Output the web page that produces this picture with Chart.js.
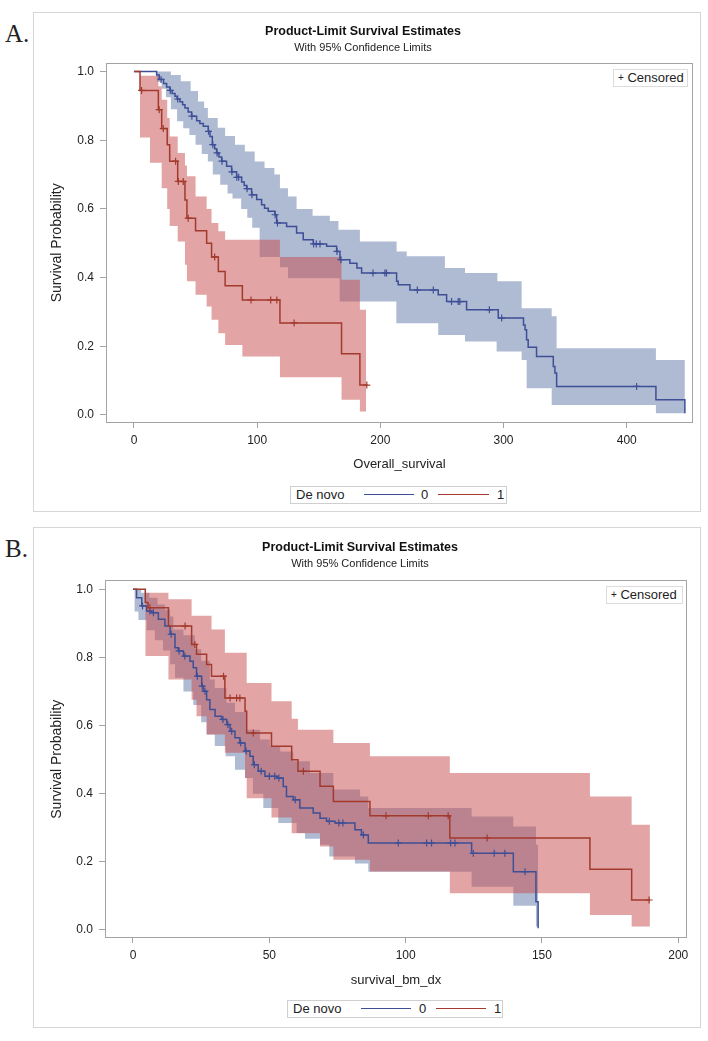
<!DOCTYPE html>
<html>
<head>
<meta charset="utf-8">
<script src="https://cdn.jsdelivr.net/npm/chart.js@4.4.0/dist/chart.umd.min.js"></script>
<style>
  body { margin: 0; width: 708px; height: 1041px; background: #fff; position: relative; overflow: hidden;
         font-family: "Liberation Sans", Arial, sans-serif; color: #222; }
  .frame { position: absolute; left: 33px; width: 668px; border: 1px solid #d6d6d6; box-sizing: border-box; }
  canvas { position: absolute; left: 33px; }
  .tag { position: absolute; left: 5px; font-family: "Liberation Serif", "Times New Roman", serif;
         font-size: 25px; line-height: 25px; color: #222; }
  .cens { position: absolute; height: 18px; border: 1px solid #dcdcdc; box-sizing: border-box; background: #fff;
          font-size: 13px; line-height: 16px; padding-left: 4px; white-space: nowrap; }
  .cens b { font-weight: normal; font-size: 10px; position: relative; top: -1px; }
  .legend { position: absolute; height: 18px; border: 1px solid #cfcfcf; box-sizing: border-box; background: #fff;
            font-size: 13px; }
  .legend span { position: absolute; top: 0; line-height: 16px; }
  .legend i { position: absolute; top: 7px; height: 0; border-top: 1.5px solid; }
</style>
</head>
<body>

<div class="tag" style="top:21px">A.</div>
<div class="frame" style="top:12px;height:500px"></div>
<canvas id="chartA" width="668" height="500" style="top:12px"></canvas>
<div class="cens" style="left:613px;top:69px;width:75px"><b>+</b> Censored</div>
<div class="legend" style="left:290px;top:486px;width:217px">
  <span style="left:5px">De novo</span>
  <i style="left:73px;width:50px;border-color:#3e4f96"></i><span style="left:130px">0</span>
  <i style="left:147px;width:51px;border-color:#a23a2e"></i><span style="left:206px">1</span>
</div>

<div class="tag" style="top:536px">B.</div>
<div class="frame" style="top:527px;height:501px"></div>
<canvas id="chartB" width="668" height="501" style="top:527px"></canvas>
<div class="cens" style="left:606px;top:586px;width:77px"><b>+</b> Censored</div>
<div class="legend" style="left:287px;top:1000px;width:216px">
  <span style="left:5px">De novo</span>
  <i style="left:73px;width:50px;border-color:#3e4f96"></i><span style="left:131px">0</span>
  <i style="left:148px;width:50px;border-color:#a23a2e"></i><span style="left:206px">1</span>
</div>

<script>
// Kaplan-Meier estimates
const yTicks = [0, 0.2, 0.4, 0.6, 0.8, 1.0];

// ---- A: Overall_survival ----
const aXTicks = [0, 100, 200, 300, 400];

const aBlueTime = [0, 18.4, 20.5, 24, 26.5, 29.2, 31, 33.3, 35, 37.3, 39.5, 41.4, 44, 46.8, 50.9, 53.5, 56.3, 60.3, 61.7, 63.6,
  65.5, 67.1, 69, 71.2, 75.2, 79.3, 83.3, 87.4, 89.5, 91.5, 95.5, 99.6, 103.6, 106, 109, 114.4, 115.8, 123.9, 132, 137.4,
  145.5, 156.4, 164.5, 167.2, 175.3, 181, 184.8, 213.2, 214.5, 224, 247, 253.8, 270, 295.7, 316.2, 317.5, 318.7, 320, 326.8,
  340.4, 341.7, 343.1, 423.7, 447.2];
const aBlueSurv = [1, 0.99, 0.977, 0.965, 0.955, 0.945, 0.936, 0.928, 0.92, 0.912, 0.903, 0.894, 0.882, 0.870, 0.857, 0.849,
  0.841, 0.826, 0.811, 0.787, 0.775, 0.763, 0.751, 0.739, 0.724, 0.708, 0.692, 0.678, 0.668, 0.659, 0.641, 0.627, 0.612, 0.602,
  0.593, 0.583, 0.559, 0.549, 0.530, 0.510, 0.498, 0.491, 0.476, 0.452, 0.442, 0.428, 0.413, 0.389, 0.379, 0.364, 0.350, 0.330,
  0.306, 0.282, 0.262, 0.248, 0.219, 0.197, 0.170, 0.141, 0.122, 0.083, 0.044, 0.005];
const aBlueCens = [22, 29.5, 35.5, 47, 60.5, 64, 67.5, 71.5, 79.5, 83.5, 85, 91.8, 95.8, 114.6, 116.5, 145.8, 148, 151, 164.8,
  168, 194, 203.7, 205, 230, 243, 257.8, 263.2, 264.5, 288.5, 298.5, 408];
const aBlueLoTime = [18.4, 22.5, 26, 30, 35, 40, 45, 50, 55, 60, 64, 70, 76, 80, 87, 92, 96, 102, 118.5, 125, 167, 213,
  247, 268.7, 294.4, 314.7, 318.8, 339.1, 423.7, 447.2];
const aBlueLo = [0.97, 0.95, 0.925, 0.89, 0.855, 0.835, 0.815, 0.787, 0.76, 0.738, 0.70, 0.67, 0.645, 0.63, 0.60, 0.574, 0.545,
  0.46, 0.43, 0.398, 0.33, 0.267, 0.233, 0.214, 0.185, 0.16, 0.078, 0.029, 0.005, 0.005];
const aBlueHiTime = [18.4, 30, 38, 46, 52, 57, 60, 68, 74, 82, 90, 98, 106, 114, 118.5, 125, 132, 145, 159, 166, 183.4, 213.2,
  221.4, 252.4, 268.7, 295, 314.7, 339.1, 343.1, 423.7, 447.2];
const aBlueHi = [1.0, 0.99, 0.972, 0.943, 0.913, 0.894, 0.865, 0.836, 0.812, 0.787, 0.767, 0.738, 0.719, 0.70, 0.66, 0.636, 0.60,
  0.58, 0.565, 0.539, 0.505, 0.476, 0.462, 0.428, 0.413, 0.389, 0.311, 0.287, 0.194, 0.16, 0.16];

const aRedTime = [0, 4.9, 19.8, 22.5, 27, 29, 35.5, 41.4, 43, 50, 59, 63, 68.5, 74, 88, 118.5, 168.5, 183.4, 189.5];
const aRedSurv = [1, 0.945, 0.889, 0.834, 0.787, 0.739, 0.680, 0.626, 0.573, 0.536, 0.500, 0.460, 0.418, 0.376, 0.335, 0.268,
  0.178, 0.087, 0.087];
const aRedCens = [6.2, 20.5, 23.8, 33.8, 36, 40, 44, 65.5, 95, 111, 116, 130, 189];
const aRedBandTime = [4.9, 13, 19.8, 22.5, 27, 29, 35.5, 41.4, 43, 50, 59, 63, 68.5, 74, 88, 118.5, 168.5, 183.4, 188.5];
const aRedLo = [0.808, 0.734, 0.734, 0.66, 0.60, 0.55, 0.505, 0.437, 0.389, 0.35, 0.316, 0.277, 0.238, 0.204, 0.17, 0.11, 0.044,
  0.01, 0.01];
const aRedHi = [0.988, 0.988, 0.957, 0.918, 0.865, 0.811, 0.763, 0.726, 0.695, 0.636, 0.60, 0.559, 0.535, 0.51, 0.51, 0.46, 0.394,
  0.306, 0.306];

// ---- B: survival_bm_dx ----
const bXTicks = [0, 50, 100, 150, 200];

const bBlueTime = [0, 1.3, 3.2, 5.0, 6.8, 9.3, 11.7, 13.6, 15.4, 16.6, 18.5, 20.9, 22.1, 23.3, 25.2, 25.8, 27.0, 28.2, 30.1,
  32.5, 34.4, 35.6, 37.4, 39.2, 41.1, 42.9, 44.1, 45.9, 48.4, 52.7, 55.1, 56.3, 58.8, 61.2, 66.1, 68.6, 71.0, 74.1, 81.4, 83.8,
  86.3, 124.2, 139.5, 147.8, 148.6];
const bBlueSurv = [1, 0.975, 0.951, 0.936, 0.931, 0.912, 0.892, 0.868, 0.828, 0.819, 0.804, 0.789, 0.770, 0.745, 0.716, 0.701,
  0.676, 0.647, 0.627, 0.618, 0.603, 0.583, 0.564, 0.549, 0.525, 0.510, 0.485, 0.466, 0.451, 0.446, 0.421, 0.392, 0.382, 0.358,
  0.343, 0.328, 0.319, 0.314, 0.294, 0.279, 0.255, 0.225, 0.171, 0.083, 0.005];
const bBlueCens = [3.5, 6.2, 7.5, 14, 16.9, 19, 23.6, 25.4, 26.4, 33, 34.8, 36.2, 39.5, 41.5, 44.5, 47, 50, 52, 53.5, 59.5, 72,
  75.5, 77, 84.5, 97.3, 107.7, 109.5, 116.5, 118.1, 124.8, 132.5, 136.4, 143.8];
const bBlueLoTime = [0.5, 2, 5, 8, 11, 13.6, 15.4, 18.5, 22.1, 25, 27, 30, 34, 37.4, 41.1, 44, 47.8, 53.3, 60, 63.1, 68.6, 72,
  81.4, 86.3, 124.2, 139.5, 147.8, 148.6];
const bBlueLo = [0.935, 0.91, 0.88, 0.85, 0.82, 0.78, 0.74, 0.70, 0.66, 0.61, 0.574, 0.54, 0.51, 0.47, 0.446, 0.40, 0.358, 0.314,
  0.285, 0.268, 0.25, 0.216, 0.195, 0.171, 0.127, 0.071, 0.01, 0.01];
const bBlueHiTime = [0.5, 3, 6, 9, 11.7, 13.6, 14.8, 18.5, 22.7, 25, 28.2, 30, 34.3, 37.4, 41.7, 46.6, 50.2, 54, 58.8, 64.9,
  73.5, 83.3, 86.3, 124.2, 139.5, 147.8, 148.6];
const bBlueHi = [1, 0.99, 0.975, 0.955, 0.94, 0.92, 0.882, 0.865, 0.824, 0.79, 0.735, 0.71, 0.667, 0.64, 0.588, 0.559, 0.54,
  0.524, 0.495, 0.461, 0.412, 0.392, 0.358, 0.333, 0.304, 0.25, 0.25];

const bRedTime = [0, 4.5, 5.5, 13, 21.5, 23.3, 27, 28.8, 33.7, 41.1, 41.7, 50.8, 58.2, 60.5, 68.6, 73.5, 86.9, 116.2, 167.6,
  182.9, 189.6];
const bRedSurv = [1, 0.961, 0.946, 0.892, 0.838, 0.809, 0.779, 0.745, 0.681, 0.642, 0.578, 0.539, 0.500, 0.466, 0.422, 0.377,
  0.335, 0.270, 0.178, 0.088, 0.088];
const bRedCens = [6.2, 19.1, 22.7, 33.2, 35.6, 38, 39.2, 44.1, 62.5, 92.8, 108.3, 115.6, 129.9, 189.3];
const bRedLoTime = [4.5, 13, 21.5, 23.3, 27, 33.7, 41.1, 41.7, 50.8, 58.2, 68.6, 73.5, 86.9, 116.2, 167.6, 182.9, 189.6];
const bRedLo = [0.804, 0.735, 0.676, 0.627, 0.574, 0.52, 0.446, 0.387, 0.33, 0.284, 0.245, 0.206, 0.172, 0.108, 0.044, 0.010,
  0.010];
const bRedHiTime = [4.5, 13, 21.5, 28.8, 33.7, 41.7, 50.8, 58.2, 60.5, 73.5, 86.9, 116.2, 167.6, 182.9, 189.6];
const bRedHi = [0.99, 0.971, 0.922, 0.882, 0.814, 0.725, 0.671, 0.62, 0.588, 0.549, 0.510, 0.461, 0.392, 0.309, 0.309];

// colours (SAS GraphData1 / GraphData2)
const BLUE = '#3e4f96';
const RED = '#a23a2e';
const BLUE_BAND = 'rgba(110,130,175,0.55)';
const RED_BAND = 'rgba(200,80,80,0.52)';
const AXIS_GREY = '#a3a3a3';

Chart.defaults.font.family = '"Liberation Sans", Arial, sans-serif';
Chart.defaults.color = '#222';

// value of a step function at time t
function stepAt(times, vals, t) {
  let v = vals[0];
  for (let i = 0; i < times.length; i++) {
    if (times[i] <= t) v = vals[i]; else break;
  }
  return v;
}

function toPoints(times, vals) {
  return times.map((t, i) => ({ x: t, y: vals[i] }));
}

// confidence band: lower and upper on a common set of times
function bandPoints(loT, lo, hiT, hi) {
  const ts = [...new Set([...loT, ...hiT])].sort((a, b) => a - b);
  return {
    lower: ts.map(t => ({ x: t, y: stepAt(loT, lo, t) })),
    upper: ts.map(t => ({ x: t, y: stepAt(hiT, hi, t) }))
  };
}

const plotBox = {
  id: 'plotBox',
  afterDatasetsDraw(chart) {
    const { ctx, chartArea: a } = chart;
    ctx.save();
    ctx.strokeStyle = AXIS_GREY;
    ctx.lineWidth = 1;
    ctx.strokeRect(Math.round(a.left) + 0.5, Math.round(a.top) + 0.5,
      Math.round(a.right - a.left) - 1, Math.round(a.bottom - a.top) - 1);
    ctx.restore();
  }
};

function makeChart(id, cfg) {
  const b0 = bandPoints(cfg.g0.loT, cfg.g0.lo, cfg.g0.hiT, cfg.g0.hi);
  const b1 = bandPoints(cfg.g1.loT, cfg.g1.lo, cfg.g1.hiT, cfg.g1.hi);
  const band = (data, fill, color, order) => ({
    data, stepped: true, borderWidth: 0, borderColor: 'transparent', pointRadius: 0,
    fill, backgroundColor: color, order
  });
  const curve = (g, color, order) => ({
    data: toPoints(g.time, g.surv), stepped: true, borderColor: color, borderWidth: 1.5,
    pointRadius: 0, fill: false, order
  });
  const marks = (g, color, order) => ({
    data: g.cens.map(c => ({ x: c, y: stepAt(g.time, g.surv, c) })),
    showLine: false, pointStyle: 'cross', pointRadius: 3.5, pointBorderWidth: 1.2,
    pointBorderColor: color, pointBackgroundColor: color, order
  });

  return new Chart(document.getElementById(id), {
    type: 'line',
    data: {
      datasets: [
        band(b0.upper, '+1', BLUE_BAND, 10),
        band(b0.lower, false, 'transparent', 10),
        band(b1.upper, '+1', RED_BAND, 9),
        band(b1.lower, false, 'transparent', 9),
        curve(cfg.g0, BLUE, 4),
        curve(cfg.g1, RED, 3),
        marks(cfg.g0, BLUE, 2),
        marks(cfg.g1, RED, 1)
      ]
    },
    options: {
      responsive: false,
      animation: false,
      events: [],
      layout: { padding: { left: 0, top: 0, right: cfg.padRight, bottom: cfg.padBottom } },
      plugins: {
        legend: { display: false },
        tooltip: { enabled: false },
        title: {
          display: true, text: 'Product-Limit Survival Estimates', color: '#111',
          font: { size: 12.5, weight: 'bold' }, padding: { top: cfg.titleTop, bottom: 0 }
        },
        subtitle: {
          display: true, text: 'With 95% Confidence Limits', color: '#222',
          font: { size: 11 }, padding: { top: 2, bottom: cfg.subBottom }
        }
      },
      scales: {
        x: {
          type: 'linear', min: cfg.xMin, max: cfg.xMax,
          afterBuildTicks: s => { s.ticks = cfg.xTicks.map(v => ({ value: v })); },
          afterFit: s => { s.height = 52; },
          grid: { drawOnChartArea: false, tickLength: 5, color: AXIS_GREY },
          border: { display: false },
          ticks: { padding: 5, font: { size: 12 }, color: '#222', maxRotation: 0, autoSkip: false,
                   callback: v => String(v) },
          title: { display: true, text: cfg.xTitle, font: { size: 13 }, color: '#222',
                   padding: { top: 0, bottom: cfg.xTitlePad } }
        },
        y: {
          min: -0.0235, max: 1.026,
          afterBuildTicks: s => { s.ticks = yTicks.map(v => ({ value: v })); },
          afterFit: s => { s.width = cfg.yWidth; },
          grid: { drawOnChartArea: false, tickLength: 6, color: AXIS_GREY },
          border: { display: false },
          ticks: { padding: 6, font: { size: 12 }, color: '#222', callback: v => v.toFixed(1) },
          title: { display: true, text: 'Survival Probability', font: { size: 14 }, color: '#222',
                   padding: { top: 15.6, bottom: 0 } }
        }
      }
    },
    plugins: [plotBox]
  });
}

makeChart('chartA', {
  xMin: -22.7, xMax: 453.8, xTicks: aXTicks, xTitle: 'Overall_survival',
  titleTop: 12, subBottom: 8.4, padRight: 8, padBottom: 37, yWidth: 73, xTitlePad: 3.2,
  g0: { time: aBlueTime, surv: aBlueSurv, cens: aBlueCens, loT: aBlueLoTime, lo: aBlueLo, hiT: aBlueHiTime, hi: aBlueHi },
  g1: { time: aRedTime, surv: aRedSurv, cens: aRedCens, loT: aRedBandTime, lo: aRedLo, hiT: aRedBandTime, hi: aRedHi }
});

makeChart('chartB', {
  xMin: -10.27, xMax: 203.2, xTicks: bXTicks, xTitle: 'survival_bm_dx',
  titleTop: 13, subBottom: 10.2, padRight: 14, padBottom: 38, yWidth: 72, xTitlePad: 2.2,
  g0: { time: bBlueTime, surv: bBlueSurv, cens: bBlueCens, loT: bBlueLoTime, lo: bBlueLo, hiT: bBlueHiTime, hi: bBlueHi },
  g1: { time: bRedTime, surv: bRedSurv, cens: bRedCens, loT: bRedLoTime, lo: bRedLo, hiT: bRedHiTime, hi: bRedHi }
});
</script>
</body>
</html>
